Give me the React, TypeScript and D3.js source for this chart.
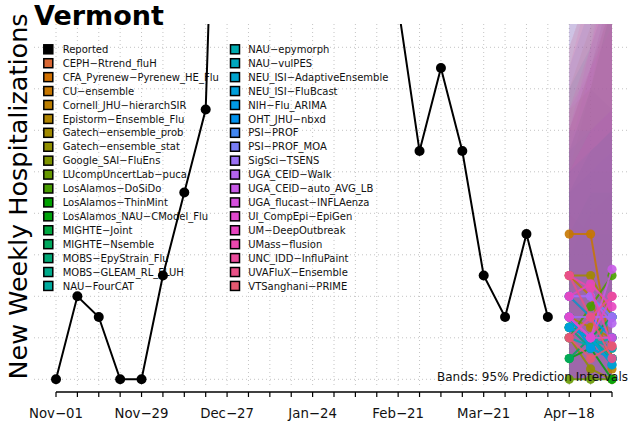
import React from "react";
import * as d3 from "d3";

const FONT = "'DejaVu Sans', 'Liberation Sans', Arial, sans-serif";

const titleText = "Vermont";
const yLabelText = "New Weekly Hospitalizations";
const bandNote = "Bands: 95% Prediction Intervals";
const tickLabels = ["Nov−01", "Nov−29", "Dec−27", "Jan−24", "Feb−21", "Mar−21", "Apr−18"];

const models = [
  "CEPH−Rtrend_fluH",
  "CFA_Pyrenew−Pyrenew_HE_Flu",
  "CU−ensemble",
  "Cornell_JHU−hierarchSIR",
  "Epistorm−Ensemble_Flu",
  "Gatech−ensemble_prob",
  "Gatech−ensemble_stat",
  "Google_SAI−FluEns",
  "LUcompUncertLab−puca",
  "LosAlamos−DoSiDo",
  "LosAlamos−ThinMint",
  "LosAlamos_NAU−CModel_Flu",
  "MIGHTE−Joint",
  "MIGHTE−Nsemble",
  "MOBS−EpyStrain_Flu",
  "MOBS−GLEAM_RL_FLUH",
  "NAU−FourCAT",
  "NAU−epymorph",
  "NAU−vulPES",
  "NEU_ISI−AdaptiveEnsemble",
  "NEU_ISI−FluBcast",
  "NIH−Flu_ARIMA",
  "OHT_JHU−nbxd",
  "PSI−PROF",
  "PSI−PROF_MOA",
  "SigSci−TSENS",
  "UGA_CEID−Walk",
  "UGA_CEID−auto_AVG_LB",
  "UGA_flucast−INFLAenza",
  "UI_CompEpi−EpiGen",
  "UM−DeepOutbreak",
  "UMass−flusion",
  "UNC_IDD−InfluPaint",
  "UVAFluX−Ensemble",
  "VTSanghani−PRIME",
];

// weekly reported hospitalizations, Nov-01 .. Apr-11
const reportedValues = [0, 4, 3, 0, 0, 5, 9, 13, 45, 60, 72, 78, 70, 55, 42, 30, 18, 11, 15, 11, 5, 3, 7, 3];

// forecast medians for Apr-18, Apr-25, May-02
const forecastMedian = [
  [3, 2, 2], [4, 3, 1], [7, 7, 1], [5, 4, 0.5], [3, 2.5, 2], [5, 5, 3], [2, 0.5, 0],
  [2.5, 2, 1.5], [0, 0, 0], [2, 3.5, 5], [2.5, 2, 1], [1, 1.5, 0], [3, 2, 3], [1, 2, 1],
  [2.5, 1.5, 1], [2.5, 2, 0.7], [3, 1.5, 3], [2, 1.6, 2], [2.5, 2, 1], [3, 2, 1.5],
  [2.5, 2, 0.7], [3, 1.5, 1], [4, 3, 2], [4, 4, 3], [4, 4, 3], [3, 3, 3], [4, 4, 2.7],
  [3, 2, 5.3], [3, 2, 2], [3, 2, 4], [4, 4.6, 3.5], [5, 4.4, 1.6], [2, 3, 4], [5, 3, 1],
  [2, 1, 1.6],
];
const forecastUpper = [
  [10, 14, 19], [14, 17, 20], [16, 19, 21], [13, 14, 13], [9, 10, 11], [12, 15, 19], [8, 7, 7],
  [10, 11, 12], [6, 8, 9], [11, 14, 18], [9, 10, 10], [7, 9, 9], [11, 14, 18], [9, 11, 12],
  [10, 11, 12], [11, 12, 13], [14, 16, 19], [12, 15, 18], [18, 22, 25], [9, 10, 11],
  [10, 11, 12], [12, 12, 13], [15, 18, 21], [20, 24, 27], [17, 20, 22], [11, 15, 19], [13, 15, 17],
  [12, 16, 22], [10, 12, 13], [18, 21, 25], [16, 19, 22], [13, 16, 20], [15, 19, 24], [12, 15, 18],
  [22, 26, 30],
];
const forecastLower = models.map(() => [0, 0, 0]);

// polar LUV (HCL as used by R's hcl()) -> sRGB hex
function hclLuv(h: number, c: number, l: number): string {
  const Xn = 95.047, Yn = 100, Zn = 108.883;
  const den = Xn + 15 * Yn + 3 * Zn;
  const un = (4 * Xn) / den, vn = (9 * Yn) / den;
  const hr = (h * Math.PI) / 180;
  const u = c * Math.cos(hr), v = c * Math.sin(hr);
  const Y = l > 8 ? Yn * Math.pow((l + 16) / 116, 3) : (Yn * l) / 903.3;
  const up = u / (13 * l) + un, vp = v / (13 * l) + vn;
  const X = (Y * 9 * up) / (4 * vp);
  const Z = (Y * (12 - 3 * up - 20 * vp)) / (4 * vp);
  const x = X / 100, y = Y / 100, z = Z / 100;
  const lin = [
    3.2404542 * x - 1.5371385 * y - 0.4985314 * z,
    -0.969266 * x + 1.8760108 * y + 0.041556 * z,
    0.0556434 * x - 0.2040259 * y + 1.0572252 * z,
  ];
  const g = lin.map((cc) => {
    const s = cc <= 0.0031308 ? 12.92 * cc : 1.055 * Math.pow(cc, 1 / 2.4) - 0.055;
    return Math.round(255 * Math.max(0, Math.min(1, s)));
  });
  return d3.rgb(g[0], g[1], g[2]).formatHex();
}

export default function App() {
  const W = 630;
  const H = 431;
  const start = new Date(2025, 10, 1);
  const weeks = d3.range(27).map((k) => d3.timeDay.offset(start, 7 * k));
  const x = d3.scaleTime().domain([weeks[0], weeks[26]]).range([56, 612]);
  const y = d3.scaleLinear().domain([0, 16]).range([379.3, 47.3]);
  const nCol = models.length + 1;
  const color = (i: number) => hclLuv(15 + (360 * (i + 1)) / nCol, 100, 57);

  const plot = { left: 34, right: 630, top: 24, bottom: 386 };
  const fDates = weeks.slice(24, 27);

  const line = d3
    .line<[Date, number]>()
    .x((d) => x(d[0]))
    .y((d) => y(d[1]));
  const area = d3
    .area<[Date, number, number]>()
    .x((d) => x(d[0]))
    .y0((d) => y(d[1]))
    .y1((d) => y(d[2]));

  const reported: [Date, number][] = reportedValues.map((v, i) => [weeks[i], v]);
  const yGrid = d3.range(0, 17, 2);

  const legendItems = [{ name: "Reported", col: "#000000" }].concat(
    models.map((m, i) => ({ name: m, col: color(i) }))
  );
  const rowH = 13.92;

  return (
    <svg
      width={W}
      height={H}
      style={{ position: "fixed", left: 0, top: 0, background: "#fff" }}
      fontFamily={FONT}
    >
      <defs>
        <clipPath id="plotClip">
          <rect x={plot.left} y={plot.top} width={plot.right - plot.left} height={plot.bottom - plot.top} />
        </clipPath>
      </defs>
      <rect x={0} y={0} width={W} height={H} fill="#fff" />
      {/* grid */}
      <g stroke="#c4c4c4" strokeWidth={1} strokeDasharray="1,3">
        {weeks.map((d, i) => (
          <line key={"v" + i} x1={x(d)} x2={x(d)} y1={plot.top} y2={plot.bottom} />
        ))}
        {yGrid.map((v) => (
          <line key={"h" + v} x1={plot.left} x2={plot.right} y1={y(v)} y2={y(v)} />
        ))}
      </g>
      {/* legend */}
      <g fontSize={10}>
        {legendItems.map((it, i) => {
          const col = i < 18 ? 0 : 1;
          const row = i % 18;
          const cy = 49.3 + row * rowH;
          const kx = col === 0 ? 48.3 : 235;
          const tx = col === 0 ? 62.7 : 248.3;
          return (
            <g key={it.name}>
              <rect x={kx - 4.5} y={cy - 4.5} width={9} height={9} fill={it.col} stroke="#000" strokeWidth={1.5} />
              <text x={tx} y={cy} dy="0.36em" fill="#111">
                {it.name}
              </text>
            </g>
          );
        })}
      </g>
      <g clipPath="url(#plotClip)">
        {/* bands */}
        {models.map((m, i) => {
          const pts: [Date, number, number][] = fDates.map((d, k) => [d, forecastLower[i][k], forecastUpper[i][k]]);
          return <path key={"b" + i} d={area(pts) || ""} fill={color(i)} fillOpacity={0.1} stroke="none" />;
        })}
        {/* reported */}
        <path d={line(reported) || ""} fill="none" stroke="#000" strokeWidth={2} />
        {reported.map((p, i) => (
          <circle key={"r" + i} cx={x(p[0])} cy={y(p[1])} r={5} fill="#000" />
        ))}
        {/* forecasts */}
        {models.map((m, i) => {
          const pts: [Date, number][] = fDates.map((d, k) => [d, forecastMedian[i][k]]);
          return (
            <g key={"f" + i}>
              <path d={line(pts) || ""} fill="none" stroke={color(i)} strokeWidth={2} strokeOpacity={0.85} />
              {pts.map((p, k) => (
                <circle key={k} cx={x(p[0])} cy={y(p[1])} r={4.6} fill={color(i)} fillOpacity={0.9} />
              ))}
            </g>
          );
        })}
      </g>
      <text x={628} y={381} textAnchor="end" fontSize={12} fill="#111">
        {bandNote}
      </text>
      {/* x axis */}
      <g>
        <line x1={x(weeks[0])} x2={x(weeks[26])} y1={392} y2={392} stroke="#000" strokeWidth={1.6} />
        {weeks.map((d, i) => (
          <line key={"t" + i} x1={x(d)} x2={x(d)} y1={392} y2={397} stroke="#000" strokeWidth={1.2} />
        ))}
        {tickLabels.map((lab, i) => (
          <text key={lab} x={x(weeks[i * 4])} y={418} textAnchor="middle" fontSize={13.3} fill="#111">
            {lab}
          </text>
        ))}
      </g>
      <text x={34} y={24.5} fontSize={27} fontWeight="bold" fill="#000">
        {titleText}
      </text>
      <text
        transform={`translate(27.3, 196.5) rotate(-90)`}
        textAnchor="middle"
        fontSize={25.5}
        fill="#000"
      >
        {yLabelText}
      </text>
    </svg>
  );
}
